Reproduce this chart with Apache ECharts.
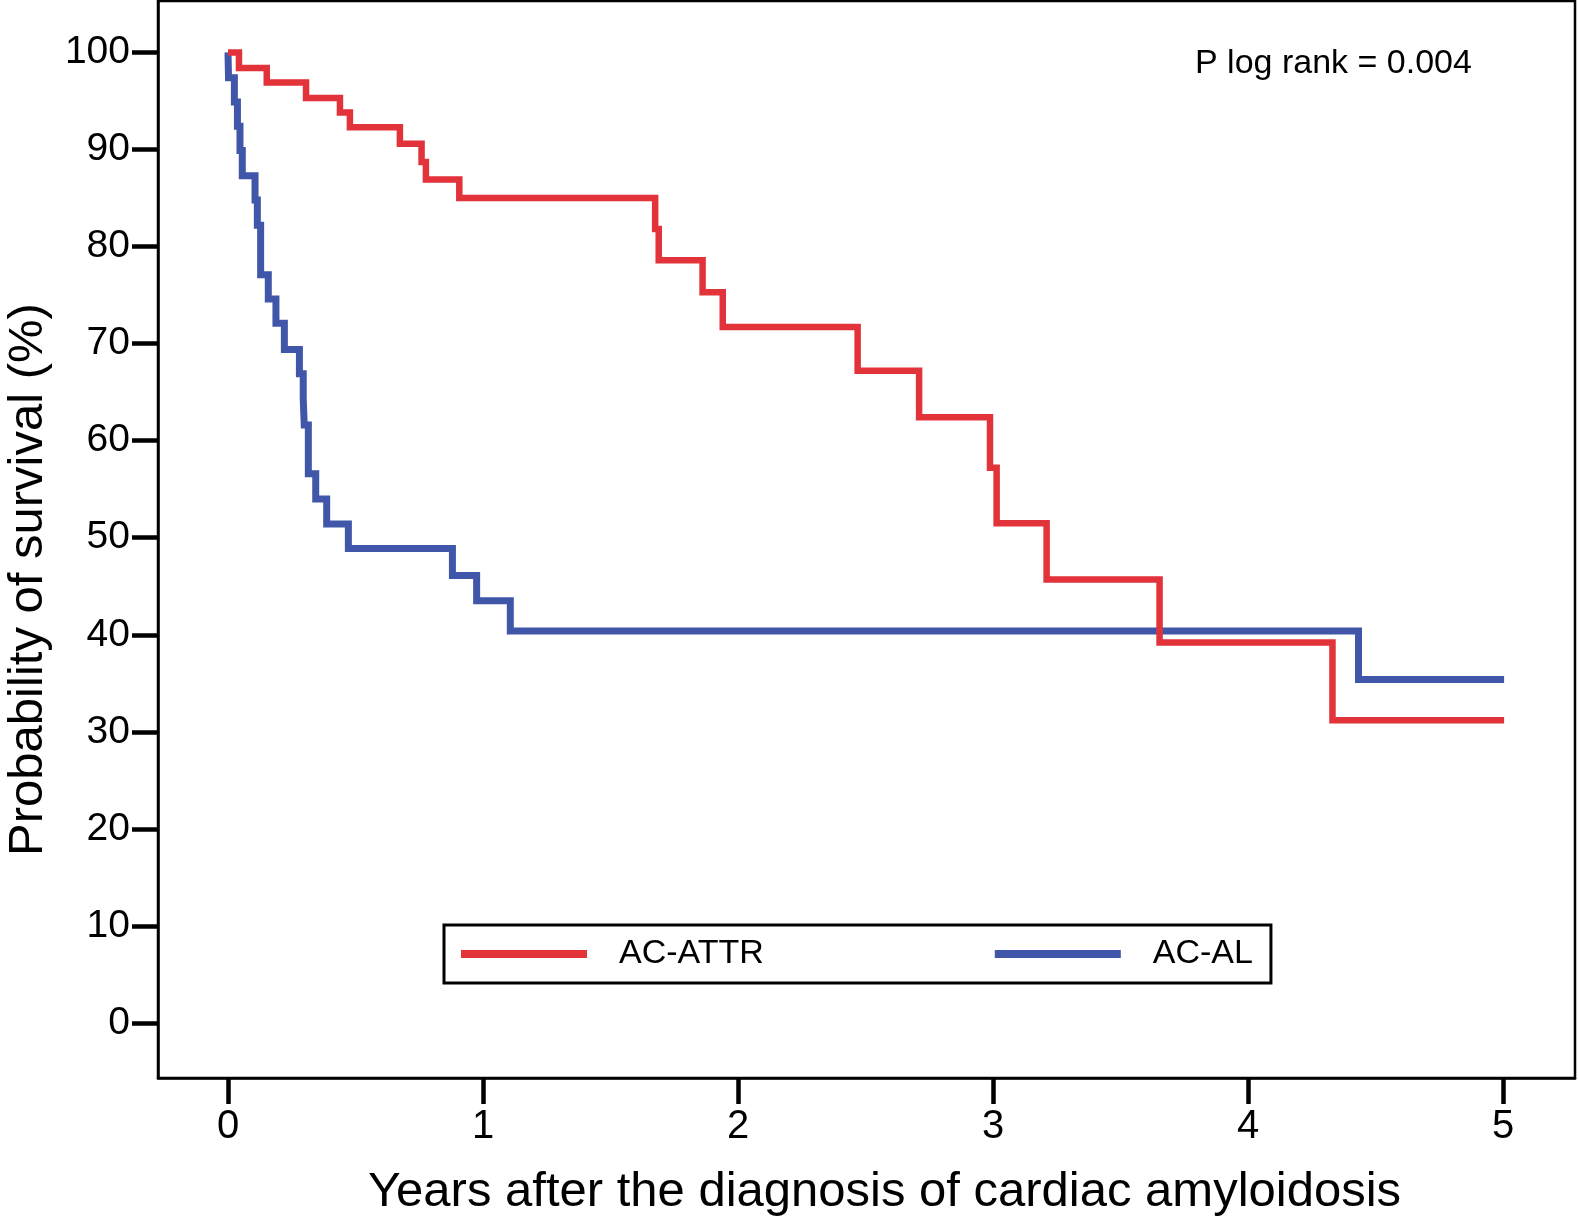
<!DOCTYPE html>
<html>
<head>
<meta charset="utf-8">
<script src="https://cdn.jsdelivr.net/npm/echarts@6/dist/echarts.min.js"></script>
<style>
html,body{margin:0;padding:0;background:#fff;}
#chart{width:1579px;height:1218px;}
</style>
</head>
<body>
<div id="chart"></div>
<script>
// ---- data ----
const seriesNames = ['AC-ATTR', 'AC-AL'];
const attrTimes = [0, 0.043, 0.152, 0.306, 0.439, 0.478, 0.674, 0.759, 0.776, 0.907, 1.675, 1.689, 1.861, 1.940, 2.469, 2.710, 2.988, 3.014, 3.210, 3.653, 4.331, 5.004];
const attrSurv  = [100, 98.4, 96.9, 95.3, 93.8, 92.3, 90.6, 88.7, 86.9, 85.0, 81.8, 78.6, 75.3, 71.7, 67.2, 62.4, 57.2, 51.5, 45.7, 39.2, 31.2, 31.2];
const alTimes = [0, 0.002, 0.025, 0.037, 0.047, 0.056, 0.106, 0.115, 0.128, 0.158, 0.188, 0.221, 0.280, 0.295, 0.299, 0.315, 0.344, 0.387, 0.472, 0.880, 0.975, 1.107, 4.433, 5.004];
const alSurv  = [100, 97.4, 94.9, 92.4, 89.9, 87.3, 84.8, 82.2, 77.1, 74.6, 72.1, 69.4, 66.9, 64.3, 61.6, 56.6, 54.0, 51.4, 48.9, 46.1, 43.5, 40.4, 35.4, 35.4];
const xTicks = [0, 1, 2, 3, 4, 5];
const yTicks = [0, 10, 20, 30, 40, 50, 60, 70, 80, 90, 100];
const xTitle = 'Years after the diagnosis of cardiac amyloidosis';
const yTitle = 'Probability of survival (%)';
const pText = 'P log rank = 0.004';

const FONT = '"Liberation Sans", Arial, Helvetica, sans-serif';
const RED = '#E2323A';
const BLUE = '#4056A8';

const attrData = attrTimes.map((t, i) => [t, attrSurv[i]]);
const alData = alTimes.map((t, i) => [t, alSurv[i]]);

const chart = echarts.init(document.getElementById('chart'), null, {renderer: 'canvas'});
chart.setOption({
  animation: false,
  backgroundColor: '#fff',
  grid: {
    left: 158, right: 4, top: 1, bottom: 140,
    show: true, borderColor: '#000', borderWidth: 2.5,
    containLabel: false, outerBoundsMode: 'none'
  },
  xAxis: {
    type: 'value', min: -0.2745, max: 5.282,
    splitLine: {show: false},
    axisLine: {show: true, onZero: false, lineStyle: {color: '#000', width: 2.5}},
    axisTick: {show: true, customValues: xTicks, length: 26, inside: false, lineStyle: {color: '#000', width: 4.5}},
    axisLabel: {show: true, customValues: xTicks, margin: 29, color: '#000', fontSize: 40, fontFamily: FONT},
    name: xTitle, nameLocation: 'middle', nameGap: 90,
    nameTextStyle: {color: '#000', fontSize: 49, fontFamily: FONT, padding: [0, 0, 0, 36]}
  },
  yAxis: {
    type: 'value', min: -5.67, max: 105.3,
    splitLine: {show: false},
    axisLine: {show: true, onZero: false, lineStyle: {color: '#000', width: 2.5}},
    axisTick: {show: true, customValues: yTicks, length: 26, inside: false, lineStyle: {color: '#000', width: 4.5}},
    axisLabel: {show: true, customValues: yTicks, margin: 28, color: '#000', fontSize: 39, fontFamily: FONT, padding: [5, 0, 0, 0]},
    name: yTitle, nameLocation: 'middle', nameGap: 105, nameRotate: 90,
    nameTextStyle: {color: '#000', fontSize: 49, fontFamily: FONT, padding: [0, 80, 0, 0]}
  },
  legend: {
    data: seriesNames,
    left: 444, top: 925,
    orient: 'horizontal',
    icon: 'rect',
    itemWidth: 126, itemHeight: 8,
    itemGap: 231,
    padding: [9, 18, 9, 17],
    borderColor: '#000', borderWidth: 3,
    textStyle: {color: '#000', fontSize: 34, fontFamily: FONT, lineHeight: 40, padding: [0, 0, 0, 27]}
  },
  graphic: [{
    type: 'text',
    x: 1195, y: 64,
    style: {text: pText, fill: '#000', font: '34px ' + FONT, verticalAlign: 'middle', align: 'left'}
  }],
  series: [
    {
      name: seriesNames[1], type: 'line', step: 'end', data: alData,
      showSymbol: false, symbol: 'none', z: 2,
      itemStyle: {color: BLUE},
      lineStyle: {color: BLUE, width: 7, join: 'miter', cap: 'butt'}
    },
    {
      name: seriesNames[0], type: 'line', step: 'end', data: attrData,
      showSymbol: false, symbol: 'none', z: 3,
      itemStyle: {color: RED},
      lineStyle: {color: RED, width: 6.5, join: 'miter', cap: 'butt'}
    }
  ]
});
</script>
</body>
</html>
